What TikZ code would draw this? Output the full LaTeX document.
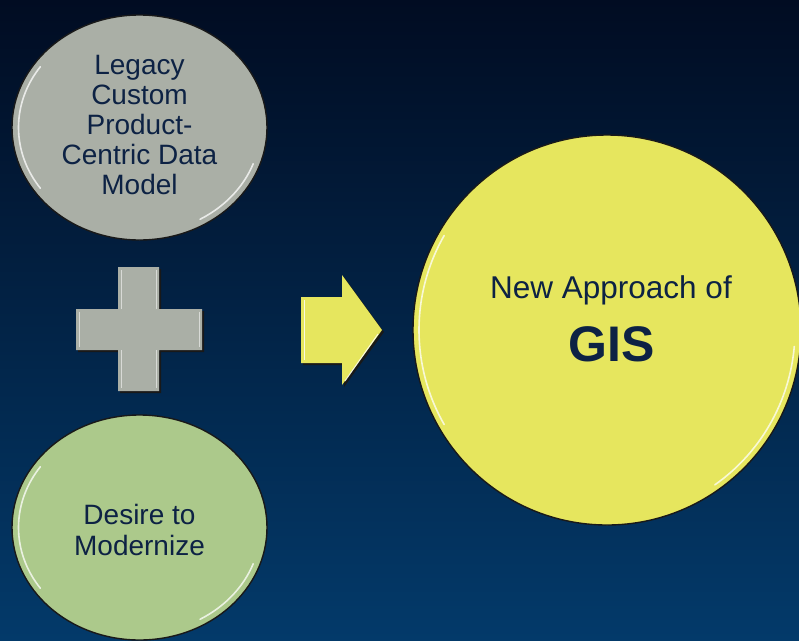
\documentclass[tikz,border=0pt]{standalone}
\usepackage{fontspec}
\setmainfont{Liberation Sans}
\usetikzlibrary{shapes.geometric,calc}
\definecolor{bgtop}{RGB}{1,12,34}
\definecolor{bgmid}{RGB}{1,36,72}
\definecolor{bgbot}{RGB}{3,58,106}
\definecolor{greyfill}{RGB}{170,175,166}
\definecolor{greenfill}{RGB}{172,201,139}
\definecolor{yellowfill}{RGB}{230,230,94}
\definecolor{txtcol}{RGB}{13,34,68}
\definecolor{rimcol}{RGB}{25,25,25}
\tikzset{
  bubble/.style={ellipse, draw=rimcol, line width=1.4pt, inner sep=0pt, align=center, text=txtcol},
  hl/.style={white, line width=1.6pt, opacity=0.75, line cap=round},
  bev/.style={white, line width=1pt, opacity=0.55}
}
\begin{document}
\begin{tikzpicture}[x=1pt,y=-1pt]
\useasboundingbox (0,0) rectangle (799,640);
\shade[top color=bgtop, middle color=bgmid, bottom color=bgbot] (0,0) rectangle (799,640);

% circles
\node[bubble, fill=greyfill, minimum width=255pt, minimum height=225pt] (legacy) at (139.5,127.5) {};
\node[text=txtcol, align=center, font=\fontsize{28}{30}\selectfont] (legacytxt) at (139.5,125)
      {Legacy\\Custom\\Product-\\Centric Data\\Model};
\node[bubble, fill=greenfill, minimum width=255pt, minimum height=225pt] (desire) at (139.5,527.5) {};
\node[text=txtcol, align=center, font=\fontsize{28}{31.7}\selectfont] (desiretxt) at (139.5,530)
      {Desire to\\Modernize};
\node[bubble, fill=yellowfill, minimum width=388pt, minimum height=390pt] (gis) at (607,330) {};
\node[text=txtcol, font=\fontsize{31.5}{31.5}\selectfont, anchor=base] (gtxt1) at (611,298) {New Approach of};
\node[text=txtcol, font=\fontsize{50}{50}\selectfont\bfseries, anchor=base] (gtxt2) at (612,361) {GIS};

% highlights on circles
\draw[hl] ($(legacy.center)+(145:121pt and 106pt)$) arc[start angle=145, end angle=215, x radius=121pt, y radius=106pt];
\draw[hl] ($(legacy.center)+(-20:121pt and 106pt)$) arc[start angle=-20, end angle=-60, x radius=121pt, y radius=106pt];
\draw[hl] ($(desire.center)+(145:121pt and 106pt)$) arc[start angle=145, end angle=215, x radius=121pt, y radius=106pt];
\draw[hl] ($(desire.center)+(-20:121pt and 106pt)$) arc[start angle=-20, end angle=-60, x radius=121pt, y radius=106pt];
\draw[hl] ($(gis.center)+(150:188pt and 189pt)$) arc[start angle=150, end angle=210, x radius=188pt, y radius=189pt];
\draw[hl] ($(gis.center)+(-5:188pt and 189pt)$) arc[start angle=-5, end angle=-55, x radius=188pt, y radius=189pt];

% plus sign
\fill[rimcol] (120,269) -- (161,269) -- (161,311) -- (204,311) -- (204,352) -- (161,352) -- (161,393) -- (120,393) -- (120,352) -- (78,352) -- (78,311) -- (120,311) -- cycle;
\fill[greyfill] (118,267) -- (159,267) -- (159,309) -- (202,309) -- (202,350) -- (159,350) -- (159,391) -- (118,391) -- (118,350) -- (76,350) -- (76,309) -- (118,309) -- cycle;
\draw[bev] (121,270) -- (121,309);
\draw[bev] (156,270) -- (156,309);
\draw[bev] (121,350) -- (121,388);
\draw[bev] (156,350) -- (156,388);
\draw[bev] (79,312) -- (79,347);
\draw[bev] (199,312) -- (199,347);

% arrow
\fill[rimcol] (303,299) -- (344,299) -- (344,277) -- (384,332) -- (344,387) -- (344,365) -- (303,365) -- cycle;
\fill[yellowfill] (301,297) -- (342,297) -- (342,275) -- (382,330) -- (342,385) -- (342,363) -- (301,363) -- cycle;
\draw[bev, opacity=0.8] (304,300) -- (304,360);
\draw[bev, opacity=0.8] (345,381) -- (378,334);
\end{tikzpicture}
\end{document}
